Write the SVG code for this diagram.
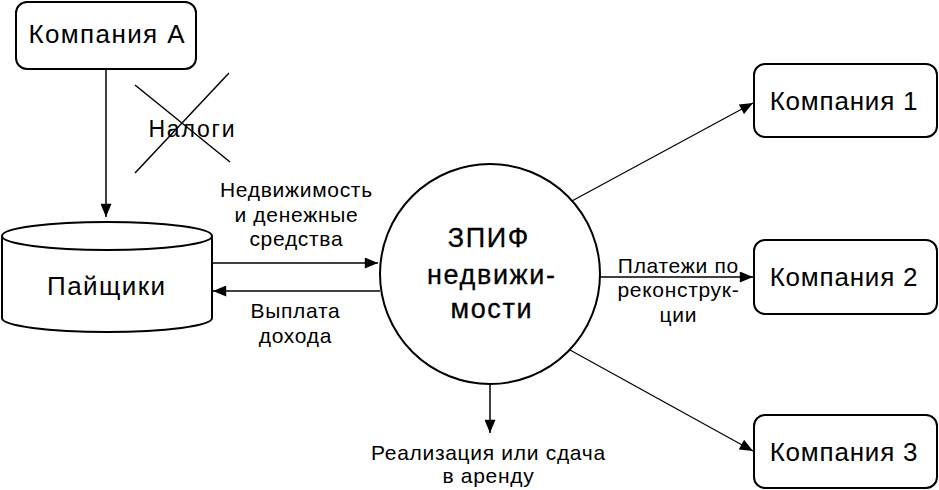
<svg xmlns="http://www.w3.org/2000/svg" width="939" height="490" viewBox="0 0 939 490">
<style>
text{font-family:"Liberation Sans",Arial,sans-serif;fill:#000;text-anchor:middle}
.box{fill:#fff;stroke:#000;stroke-width:2}
.big{font-size:26px;letter-spacing:0.8px}
.lbl{font-size:21px;letter-spacing:0.7px}
.fund{font-size:27px;letter-spacing:1.6px;stroke:#000;stroke-width:0.3}
.ln{stroke:#000;stroke-width:1.5;fill:none}
.thin{stroke:#000;stroke-width:1.2;fill:none}
</style>
<defs>
<marker id="ahb" viewBox="0 0 12 10" refX="12" refY="5" markerWidth="14" markerHeight="11" markerUnits="userSpaceOnUse" orient="auto">
<path d="M0,0 L12,5 L0,10 z" fill="#000"/>
</marker>
</defs>
<g id="connectors">
<line class="ln" x1="106" y1="70" x2="106" y2="217" marker-end="url(#ahb)"/>
<line class="ln" x1="212" y1="263" x2="378" y2="263" marker-end="url(#ahb)"/>
<line class="ln" x1="380" y1="291" x2="213" y2="291" marker-end="url(#ahb)"/>
<line class="ln" x1="490" y1="384" x2="490" y2="433" marker-end="url(#ahb)"/>
<line class="thin" x1="570" y1="202" x2="753" y2="103" marker-end="url(#ahb)"/>
<line class="ln" x1="600" y1="277" x2="753" y2="277" marker-end="url(#ahb)"/>
<line class="thin" x1="570" y1="350" x2="753" y2="451" marker-end="url(#ahb)"/>
<text class="lbl" x="296.4" y="197">Недвижимость</text>
<text class="lbl" x="296.4" y="222">и денежные</text>
<text class="lbl" x="296.4" y="246">средства</text>
<text class="lbl" x="295.4" y="318">Выплата</text>
<text class="lbl" x="295.4" y="343">дохода</text>
<text class="lbl" x="488.4" y="460">Реализация или сдача</text>
<text class="lbl" x="488.4" y="483">в аренду</text>
<text class="lbl" x="678.4" y="273">Платежи по</text>
<text class="lbl" x="678.4" y="297">реконструк-</text>
<text class="lbl" x="678.4" y="322">ции</text>
</g>
<g id="taxes">
<line class="ln" x1="135" y1="85" x2="230" y2="162"/>
<line class="ln" x1="229" y1="73" x2="135" y2="173"/>
<text style="font-size:23px;letter-spacing:1.8px" x="192.4" y="137">Налоги</text>
</g>
<g id="companyA">
<rect class="box" x="16" y="2" width="180" height="67" rx="11"/>
<text class="big" style="letter-spacing:1.4px" x="107.2" y="43">Компания А</text>
</g>
<g id="investors">
<path class="box" d="M2,236 L2,318 A105,14 0 0 0 212,318 L212,236"/>
<ellipse class="box" cx="107" cy="236" rx="105" ry="14"/>
<text class="big" style="letter-spacing:1.4px" x="106.7" y="295">Пайщики</text>
</g>
<g id="fund">
<circle class="box" cx="490" cy="274" r="110"/>
<text class="fund" x="488.8" y="247">ЗПИФ</text>
<text class="fund" x="491.8" y="284">недвижи-</text>
<text class="fund" x="491.8" y="318">мости</text>
</g>
<g id="company1">
<rect class="box" x="754" y="64" width="183" height="73" rx="11"/>
<text class="big" x="844" y="110">Компания 1</text>
</g>
<g id="company2">
<rect class="box" x="754" y="240" width="183" height="74" rx="11"/>
<text class="big" x="844" y="286">Компания 2</text>
</g>
<g id="company3">
<rect class="box" x="754" y="415" width="183" height="73" rx="11"/>
<text class="big" x="844" y="461">Компания 3</text>
</g>
</svg>
